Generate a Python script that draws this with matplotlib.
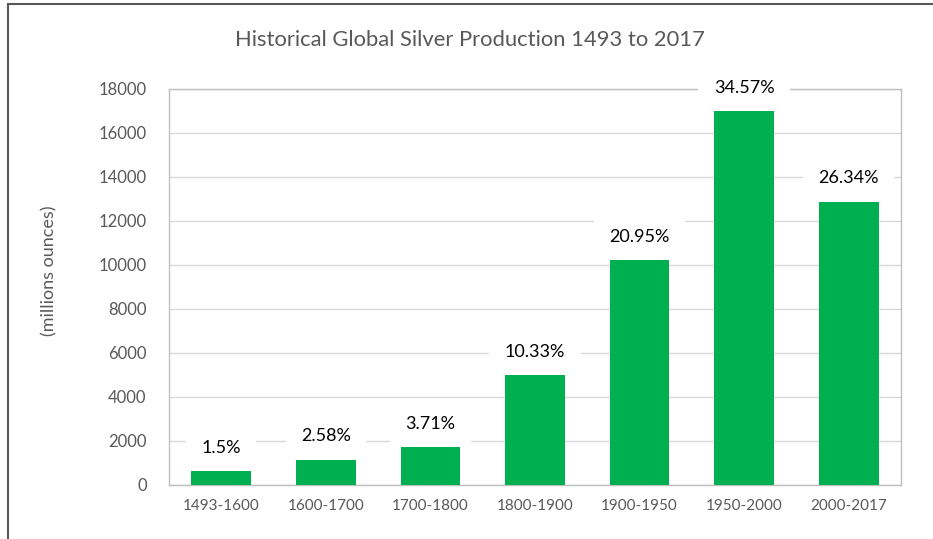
import matplotlib.pyplot as plt
from matplotlib.patches import Rectangle

# Datos del gráfico
periodos = ['1493-1600', '1600-1700', '1700-1800', '1800-1900',
            '1900-1950', '1950-2000', '2000-2017']
produccion = [740, 1272, 1830, 5095, 10333, 17100, 12991]
porcentajes = ['1.5%', '2.58%', '3.71%', '10.33%', '20.95%', '34.57%', '26.34%']
y_ticks = [0, 2000, 4000, 6000, 8000, 10000, 12000, 14000, 16000, 18000]

plt.rcParams['font.family'] = ['Lato', 'DejaVu Sans']

fig = plt.figure(figsize=(9.33, 5.39), dpi=100)
ax = fig.add_axes([0.1811, 0.1002, 0.7846, 0.7347])

# Marco exterior (solo visible arriba e izquierda)
fig.patches.append(Rectangle((8 / 933, -0.1), 1.2, 1.1 - 4 / 539,
                             transform=fig.transFigure, fill=False,
                             edgecolor='#595959', linewidth=1.5))

x = range(len(periodos))
ax.bar(x, produccion, width=0.57, color='#00B050', zorder=3)

for i, (v, p) in enumerate(zip(produccion, porcentajes)):
    ax.annotate(p, (i, v), xytext=(0, 15), textcoords='offset points',
                ha='center', va='center', fontsize=13, color='#000000',
                bbox=dict(boxstyle='square,pad=0.85', fc='white', ec='none'),
                zorder=4)

ax.set_xlim(-0.5, len(periodos) - 0.5)
ax.set_ylim(0, 18000)
ax.set_yticks(y_ticks)
ax.set_xticks(list(x))
ax.set_xticklabels(periodos)
ax.tick_params(axis='both', length=0, colors='#595959')
ax.tick_params(axis='y', pad=16, labelsize=12)
ax.tick_params(axis='x', pad=10, labelsize=11)
ax.grid(axis='y', color='#D9D9D9', linewidth=1, zorder=0)
for s in ax.spines.values():
    s.set_color('#BFBFBF')
    s.set_linewidth(1)

ax.set_ylabel('(millions ounces)', fontsize=13, color='#595959')
ax.yaxis.set_label_coords((57 - 169) / 732, 0.54)
fig.text(0.504, 0.925, 'Historical Global Silver Production 1493 to 2017',
         ha='center', va='center', fontsize=15.8, color='#595959')

fig.savefig('out.png', dpi=100)
